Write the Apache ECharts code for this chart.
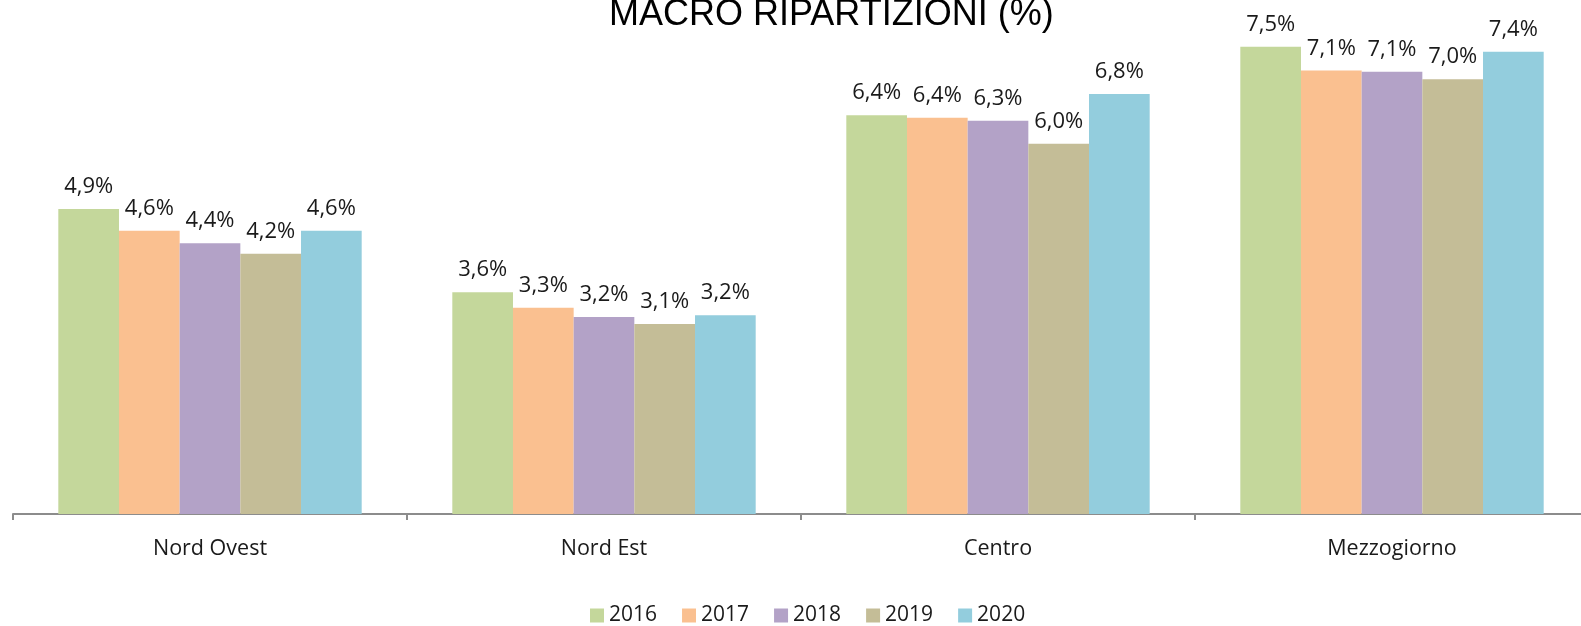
<!DOCTYPE html>
<html>
<head>
<meta charset="utf-8">
<title>Macro ripartizioni</title>
<script src="https://cdn.jsdelivr.net/npm/echarts@6/dist/echarts.min.js"></script>
<style>
  html, body { margin: 0; padding: 0; background: #fff; }
  #chart { width: 1581px; height: 626px; }
</style>
</head>
<body>
<div id="chart"></div>
<script>
// data (percent values)
var categories = ['Nord Ovest', 'Nord Est', 'Centro', 'Mezzogiorno']
var years = ['2016', '2017', '2018', '2019', '2020']
var v2016 = [4.91, 3.57, 6.42, 7.52]
var v2017 = [4.56, 3.32, 6.38, 7.14]
var v2018 = [4.36, 3.17, 6.33, 7.12]
var v2019 = [4.19, 3.06, 5.96, 7.00]
var v2020 = [4.56, 3.20, 6.76, 7.44]

var seriesValues = [v2016, v2017, v2018, v2019, v2020]
var colors = ['#C4D79B', '#FAC090', '#B3A2C7', '#C4BD97', '#93CDDD']

var chart = echarts.init(document.getElementById('chart'))

function fmtLabel(p) {
  return p.value.toFixed(1).replace('.', ',') + '%'
}

chart.setOption({
  animation: false,
  title: {
    text: 'MACRO RIPARTIZIONI (%)',
    left: 604,
    top: -8,
    textStyle: {
      fontFamily: 'Liberation Sans',
      fontSize: 36,
      fontWeight: 'normal',
      color: '#000'
    }
  },
  legend: {
    data: years,
    left: 585,
    top: 600,
    icon: 'rect',
    itemWidth: 14,
    itemHeight: 14,
    itemGap: 25,
    textStyle: {
      fontFamily: 'Open Sans',
      fontSize: 21,
      color: '#1a1a1a'
    }
  },
  grid: {
    left: 13,
    width: 1576,
    top: 17,
    bottom: 112,
    outerBoundsMode: 'none'
  },
  xAxis: {
    type: 'category',
    data: categories,
    axisLine: { lineStyle: { color: '#8c8c8c', width: 2 } },
    axisTick: { show: true, length: 6, lineStyle: { color: '#8c8c8c', width: 2 } },
    axisLabel: {
      margin: 24,
      fontFamily: 'Open Sans',
      fontSize: 21.5,
      color: '#1a1a1a'
    }
  },
  yAxis: {
    type: 'value',
    min: 0,
    max: 8,
    show: false,
    splitLine: { show: false }
  },
  series: years.map(function (y, i) {
    return {
      name: y,
      type: 'bar',
      data: seriesValues[i],
      barGap: '0%',
      barCategoryGap: '23%',
      itemStyle: { color: colors[i] },
      label: {
        show: true,
        position: 'top',
        distance: 11,
        formatter: fmtLabel,
        fontFamily: 'Open Sans',
        fontSize: 22,
        color: '#1a1a1a'
      }
    }
  })
})
</script>
</body>
</html>
